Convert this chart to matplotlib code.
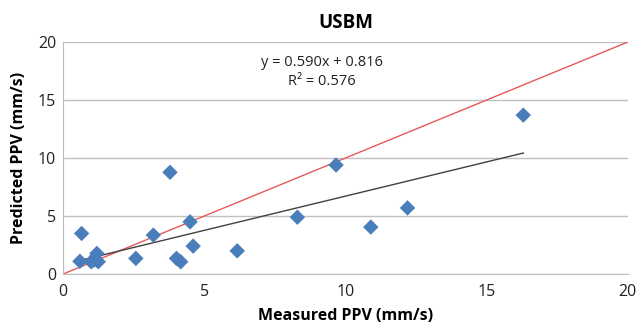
import matplotlib
matplotlib.use('Agg')
import matplotlib.pyplot as plt
import numpy as np

plt.rcParams['font.family'] = ['Open Sans', 'DejaVu Sans']

# measured vs predicted PPV (mm/s)
measured = [0.6, 0.66, 1.0, 1.1, 1.2, 1.25, 2.58, 3.2, 3.79, 4.02, 4.17, 4.5, 4.61, 6.17, 8.3, 9.67, 10.9, 12.2, 16.3]
predicted = [1.1, 3.5, 1.06, 1.2, 1.78, 1.06, 1.35, 3.36, 8.77, 1.35, 1.06, 4.5, 2.41, 2.0, 4.9, 9.4, 4.05, 5.7, 13.7]

slope = 0.590
intercept = 0.816
r2 = 0.576
ticks = [0, 5, 10, 15, 20]

fig = plt.figure(figsize=(6.38, 3.31), dpi=100)
ax = fig.add_axes([0.0987, 0.172, 0.8853, 0.701])

# 1:1 line
ax.plot([0, 20], [0, 20], color='#e8585a', linewidth=1.0, zorder=2)

# linear trend over data range
xs = np.array([min(measured), max(measured)])
ax.plot(xs, slope * xs + intercept, color='#404040', linewidth=1.0, zorder=2)

ax.scatter(measured, predicted, marker='D', s=62, color='#4a7ebb', edgecolors='none', zorder=3)

ax.set_xlim(0, 20)
ax.set_ylim(0, 20)
ax.set_xticks(ticks)
ax.set_yticks(ticks)
ax.yaxis.grid(True, color='#c0c0c0', linewidth=1.0)
ax.set_axisbelow(True)
for s in ['top', 'right']:
    ax.spines[s].set_visible(False)
for s in ['left', 'bottom']:
    ax.spines[s].set_color('#bfbfbf')
ax.tick_params(length=0, labelsize=11.5, colors='#222222')
ax.tick_params(axis='x', pad=7)
ax.tick_params(axis='y', pad=5)

ax.set_xlabel('Measured PPV (mm/s)', fontsize=11.5, fontweight='bold', labelpad=6)
ax.set_ylabel('Predicted PPV (mm/s)', fontsize=11.5, fontweight='bold', labelpad=8)
ax.set_title('USBM', fontsize=13.5, fontweight='bold', pad=10)

ax.text(0.458, 0.91, 'y = %.3fx + %.3f' % (slope, intercept), transform=ax.transAxes,
        ha='center', va='center', fontsize=10.5, color='#222222')
ax.text(0.458, 0.83, 'R² = %.3f' % r2, transform=ax.transAxes,
        ha='center', va='center', fontsize=10.5, color='#222222')

plt.savefig('out.png', dpi=100)
